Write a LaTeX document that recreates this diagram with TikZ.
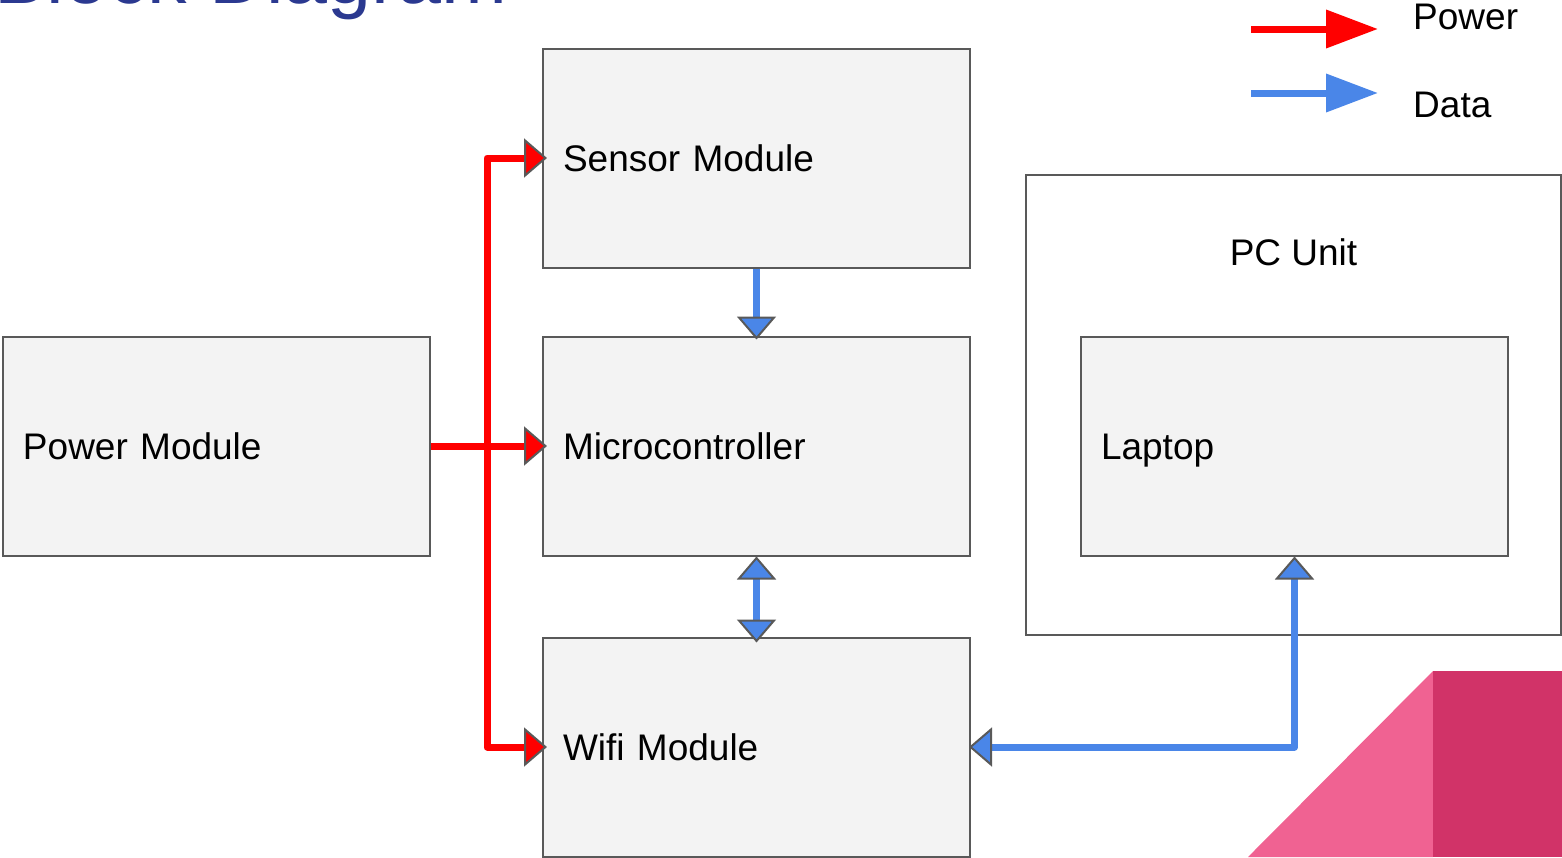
\documentclass[tikz,border=0pt]{standalone}
\usepackage{fontspec}
\setmainfont{Liberation Sans}
\usepackage{tikz}
\usetikzlibrary{positioning, arrows.meta}
\definecolor{pwrred}{RGB}{255,0,0}
\definecolor{datblue}{RGB}{74,134,232}
\definecolor{edgegray}{RGB}{89,89,89}
\definecolor{boxfill}{RGB}{243,243,243}
\definecolor{titleblue}{RGB}{43,57,144}
\definecolor{pinklight}{RGB}{240,98,146}
\definecolor{pinkdark}{RGB}{209,51,104}
\tikzset{
  pwrtip/.tip={Triangle[length=23pt, width=39pt, fill=pwrred, color=edgegray, line width=2pt]},
  dattip/.tip={Triangle[length=23pt, width=39pt, fill=datblue, color=edgegray, line width=2pt]}
}

\begin{document}
\begin{tikzpicture}[x=1pt, y=-1pt, node distance=67pt,
  blk/.style={draw=edgegray, line width=2pt, fill=boxfill, minimum height=219pt, text width=387pt, inner xsep=20pt, align=left, text height=27pt, text depth=0pt, font=\fontsize{37pt}{44pt}\selectfont},
  txt/.style={inner sep=0pt, font=\fontsize{37pt}{44pt}\selectfont},
  pwr/.style={draw=pwrred, line width=7pt, line join=round, shorten >=-5pt, -pwrtip},
  dat/.style={draw=datblue, line width=7pt, line join=round, -dattip},
  datboth/.style={dat, dattip-dattip},
  key/.style={line width=7pt, -{Triangle[length=52pt, width=37pt]}}]
  \useasboundingbox (0,0) rectangle (1562,857);

  \fill[pinklight] (1248,857) -- (1433,671) -- (1433,857) -- cycle;
  \fill[pinkdark] (1433,671) rectangle (1562,857);

  \node[anchor=base west, inner sep=0pt, text=titleblue, font=\fontsize{79pt}{90pt}\selectfont] (title) at (-6,3) {Block Diagram};

  \node[blk] (sensor) at (756.5,158) {Sensor Module};
  \node[blk, below=of sensor] (micro) {Microcontroller};
  \node[blk, below=80pt of micro] (wifi) {Wifi Module};
  \node[blk, left=111pt of micro] (power) {Power Module};
  \node[draw=edgegray, line width=2pt, fill=white, minimum width=535pt, minimum height=460pt] (pcunit) at (1293.5,405) {};
  \node[txt, below=64pt of pcunit.north] (pclabel) {PC Unit};
  \node[blk, right=109pt of micro] (laptop) {Laptop};

  \coordinate (bus) at (487,0);
  \draw[pwr] (power) -- (micro);
  \draw[pwr] (bus |- sensor) |- (wifi);
  \draw[pwr] (bus |- wifi) |- (sensor);

  \draw[dat, shorten >=-4pt] (sensor) -- (micro);
  \draw[datboth, shorten >=-6pt] (micro) -- (wifi);
  \draw[datboth, shorten <=-2pt] (wifi) -| (laptop);

  \coordinate (keyp0) at (1251,29);
  \coordinate (keyp1) at (1378,29);
  \coordinate (keyd0) at (1251,93);
  \coordinate (keyd1) at (1378,93);
  \draw[key, draw=pwrred] (keyp0) -- (keyp1);
  \draw[key, draw=datblue] (keyd0) -- (keyd1);
  \node[txt, anchor=base west] (keypwr) at (1413,29) {Power};
  \node[txt, anchor=base west] (keydat) at (1413,117) {Data};
\end{tikzpicture}
\end{document}
